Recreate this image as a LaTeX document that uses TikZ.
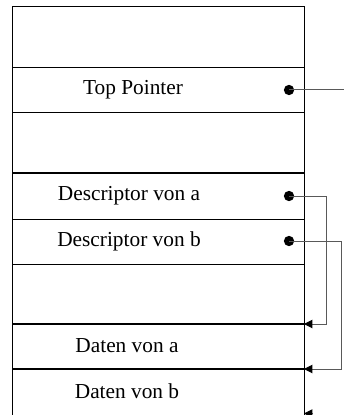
\documentclass[tikz,border=0pt]{standalone}
\usepackage{fontspec}
\setmainfont{Liberation Serif}
\usetikzlibrary{arrows.meta}

\begin{document}
\begin{tikzpicture} [
                x=0.6pt, y=-0.6pt,
                cell/.style={draw,line width=0.6pt,rectangle,anchor=north west,minimum width=175.2pt,inner sep=0pt,outer sep=0pt},
                entry/.style={font=\fontsize{12.8}{15}\selectfont,inner sep=0pt},
                dot/.style={circle,fill=black,minimum size=6.2pt,inner sep=0pt},
                pointer/.style={draw=black!65,line width=0.6pt,-{Triangle[length=5pt,width=5pt,fill=black,color=black]}},
            ]
            \useasboundingbox (0,0) rectangle (345,415);
            \clip (0,0) rectangle (345,415);
            \foreach \pos/\h/\name in {
                    {(12,7)/36.6pt/free1}, {(12,68)/27pt/top}, {(12,113)/36pt/free2},
                    {(12,173)/27.6pt/descA}, {(12,219)/27pt/descB}, {(12,264)/36pt/free3},
                    {(12,324)/27pt/datA}, {(12,369)/27.6pt/datB}}
                \node[cell,minimum height=\h] (\name) at \pos {};
            \draw[line width=0.9pt] (datA.north west) -- (datA.north east);
            \draw[line width=0.9pt] (datB.north west) -- (datB.north east);
            \foreach \pos/\name/\text in {
                    {(133,90)/topText/Top Pointer}, {(129,196)/descAText/Descriptor von a},
                    {(129,241)/descBText/Descriptor von b}, {(127,346)/datAText/Daten von a},
                    {(127,391)/datBText/Daten von b}}
                \node[entry] (\name) at \pos {\text};
            \foreach \pos/\name in {
                    {(289,90)/topDot}, {(289,196)/descADot}, {(289,241)/descBDot}}
                \node[dot] (\name) at \pos {};
            \coordinate (topEnd) at (344,90);
            \coordinate (lowStart) at (313,413.5);
            \coordinate (lowTip) at (304,413.5);
            \path[draw=black!65,line width=0.6pt] (topDot.center) -- (topEnd);
            \path[pointer] (descADot.center) -- ++(37,0) |- (datA.north east);
            \path[pointer] (descBDot.center) -- ++(52,0) |- (datB.north east);
            \path[pointer] (lowStart) -- (lowTip);
        \end{tikzpicture}
\end{document}
